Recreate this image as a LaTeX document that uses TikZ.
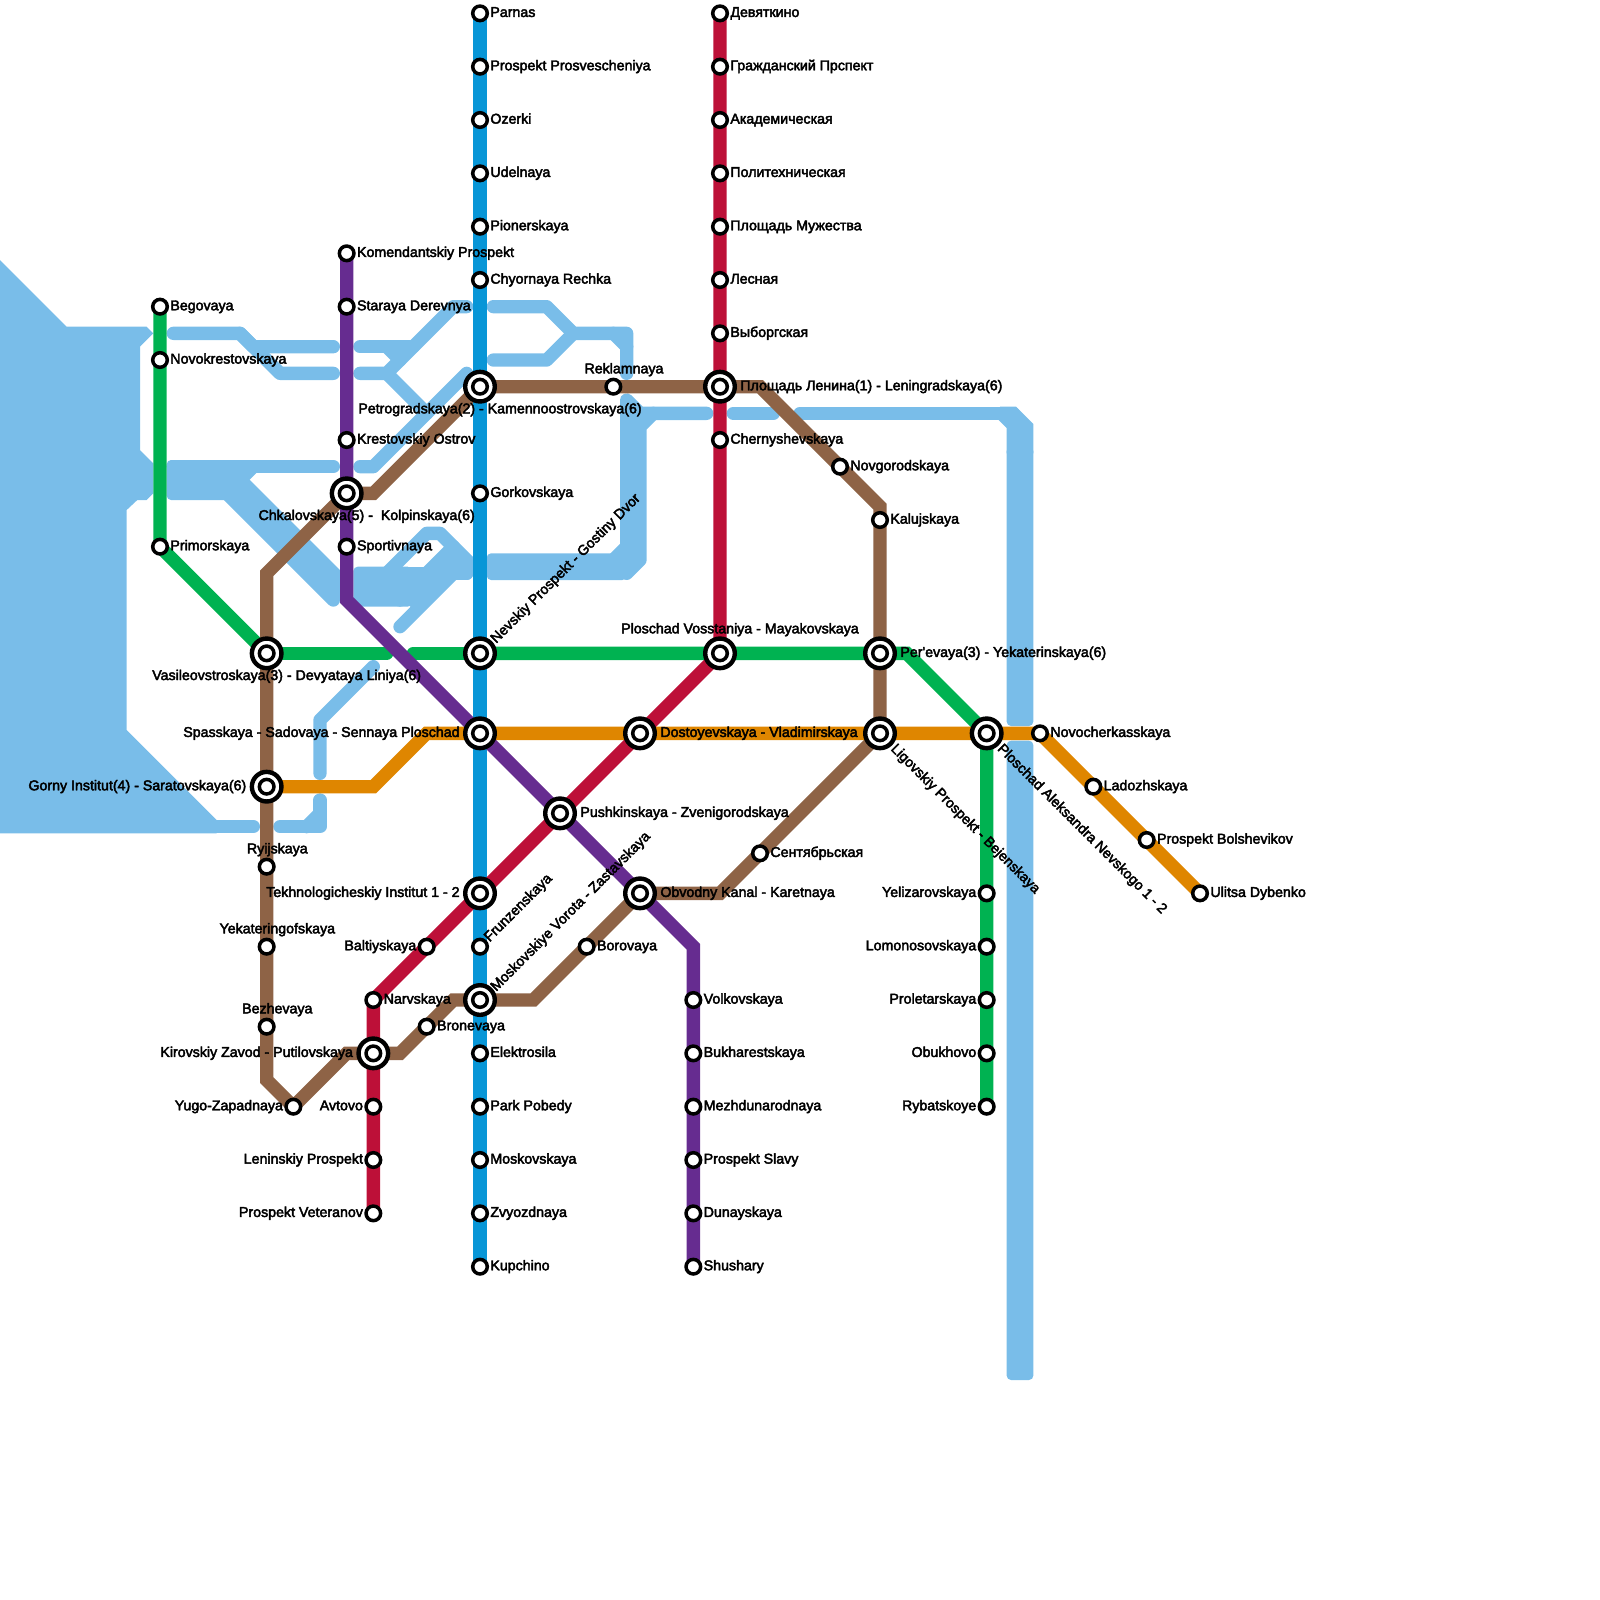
\documentclass[tikz,border=0pt]{standalone}
\usepackage{fontspec}
\newfontfamily\lblfont[FakeBold=3]{Liberation Sans}
\pgfdeclarelayer{water}
\pgfdeclarelayer{lines}
\pgfsetlayers{water,lines,main}
\definecolor{cwater}{HTML}{79BDE9}
\definecolor{cblue}{HTML}{0896D7}
\definecolor{cred}{HTML}{BD1038}
\definecolor{cpurple}{HTML}{662C90}
\definecolor{cgreen}{HTML}{00B251}
\definecolor{corange}{HTML}{DF8600}
\definecolor{cbrown}{HTML}{8E6346}
\tikzset{
  stn/.style={circle,draw=black,fill=white,line width=1.75pt,minimum size=7.3pt,inner sep=0pt},
  hubo/.style={circle,draw=black,fill=white,line width=2.2pt,minimum size=14.8pt,inner sep=0pt},
  lbl/.style={font=\lblfont\fontsize{7.1pt}{8pt}\selectfont,inner sep=0pt,text=black},
  metro/.style={line width=6.667pt,line join=miter,line cap=butt},
  wat/.style={line width=6.667pt,line join=round,line cap=round,draw=cwater},
  watf/.style={fill=cwater,rounded corners=2.2pt},
}
% station, optional label variants
\newcommand{\st}[3]{\node[stn] (#1) at (#2,#3) {};}
\newcommand{\hb}[3]{\node[hubo] (#1) at (#2,#3) {};\node[stn] (#1c) at (#1.center) {};}
\newcommand{\lR}[4]{\node[lbl,anchor=base west] (#1l) at ({#2+0.75},{#3+0.27}) {#4};}
\newcommand{\lL}[4]{\node[lbl,anchor=base east] (#1l) at ({#2-0.75},{#3+0.27}) {#4};}
\newcommand{\lA}[4]{\node[lbl,anchor=base west] (#1l) at (#2,#3) {#4};}
\newcommand{\lE}[4]{\node[lbl,anchor=base east] (#1l) at (#2,#3) {#4};}
\newcommand{\lC}[4]{\node[lbl,anchor=base] (#1l) at (#2,#3) {#4};}
\newcommand{\sR}[4]{\st{#1}{#2}{#3}\lR{#1}{#2}{#3}{#4}}
\newcommand{\sL}[4]{\st{#1}{#2}{#3}\lL{#1}{#2}{#3}{#4}}
\begin{document}
\begin{tikzpicture}[x=6.6667pt,y=-6.6667pt]
\useasboundingbox (0,0) rectangle (120,120);
% ---------- water
\begin{pgfonlayer}{water}
\fill[cwater] (0,19.5) -- (5,24.5) -- (11,24.5) -- (11.5,25) -- (10.5,26) -- (10.5,33.75) -- (11.5,34.75) -- (11.5,37) -- (11,37.5) -- (10.3,37.5) -- (9.5,38.25) -- (9.5,54.75) -- (16.25,61.5) -- (16.25,62.5) -- (0,62.5) -- cycle;
\draw[wat] (16,62) -- (19,62);
\draw[wat] (21,62) -- (24,62) -- (24,60);
\draw[wat] (23,62) -- (24,61);
\draw[wat] (28,50) -- (24,54) -- (24,58);
\draw[wat] (13,25) -- (18,25) -- (19,26) -- (25,26);
\draw[wat] (18,25) -- (21,28) -- (25,28);
% left band
\draw[wat] (13,35) -- (25,35);
\draw[wat] (17,37) -- (19,35);
\draw[wat] (17,37) -- (25,45);
\fill[watf] (12.5,34.5) rectangle (18,37.5);
\fill[cwater] (17.2,35) -- (18.75,36) -- (25.5,42.75) -- (25.5,45) -- (25,45) -- (17,37) -- cycle;
% upper branches
\draw[wat] (27,26) -- (31,26);
\draw[wat] (27,28) -- (29,28) -- (34,23) -- (35,23);
\draw[wat] (29,26) -- (30,27);
\draw[wat] (29,28) -- (32,31);
\draw[wat] (27,35) -- (28,35) -- (35,28);
% central clump
\draw[wat] (30,43) -- (35,43);
\draw[wat] (29,43) -- (32,40) -- (33,40) -- (35.2,42.2) -- (35,43);
\draw[wat] (34,41) -- (30,45);
\draw[wat] (30,47) -- (34,43);
\fill[watf] (26.5,42.5) rectangle (30.9,45.5);
\fill[cwater] (34,41) -- (35.2,42.2) -- (35,43) -- (34,43) -- (30,47) -- (30.8,45.5) -- (30,45) -- cycle;
% upper right of blue
\draw[wat] (37,23) -- (41,23) -- (43,25) -- (47,25) -- (47,28);
\draw[wat] (46,25) -- (47,26);
\draw[wat] (37,27) -- (41,27) -- (43,25);
% right band
\draw[wat] (46,42) -- (47,41) -- (47,30) -- (48,31) -- (53,31);
\draw[wat] (47,43) -- (48,42) -- (48,32) -- (49,31);
\fill[watf] (36.5,41.5) rectangle (47,43.5);
\fill[cwater] (46,42) -- (47,41) -- (47,30) -- (48,31) -- (48,42) -- (47,43) -- (46,43) -- cycle;
\draw[wat] (55,31) -- (58,31);
% far right
\draw[wat] (60,31) -- (76,31);
\fill[cwater] (75,30.5) -- (76.2,30.5) -- (77.5,31.8) -- (77.5,34) -- (75.5,34) -- (75.5,32.1) -- (74.9,31.5) -- cycle;
\fill[watf] (75.5,33.5) rectangle (77.5,54.45);
\fill[watf] (75.5,55.55) rectangle (77.5,103.5);
\end{pgfonlayer}
% ---------- bends
\coordinate (b1) at (20,81);
\coordinate (b2) at (26,79);
\coordinate (b3) at (30,79);
\coordinate (b4) at (34,75);
\coordinate (b5) at (40,75);
\coordinate (b6) at (54,67);
\coordinate (b7) at (66,38);
\coordinate (b8) at (57,29);
\coordinate (b9) at (28,37);
\coordinate (b10) at (20,43);
\coordinate (g1) at (29,49);
\coordinate (g2) at (31,49);
\coordinate (g3) at (68,49);
\coordinate (o1) at (28,59);
\coordinate (o2) at (32,55);
\coordinate (p1) at (26,45);
\coordinate (p2) at (52,71);
% ---------- hubs
\hb{petro}{36}{29}
\hb{nevsky}{36}{49}
\hb{spass}{36}{55}
\hb{tekh}{36}{67}
\hb{mosk}{36}{75}
\hb{lenin}{54}{29}
\hb{vosst}{54}{49}
\hb{chk}{26}{37}
\hb{vasil}{20}{49}
\hb{gorny}{20}{59}
\hb{kirov}{28}{79}
\hb{pushk}{42}{61}
\hb{dost}{48}{55}
\hb{obv}{48}{67}
\hb{perv}{66}{49}
\hb{ligo}{66}{55}
\hb{alex}{74}{55}
% ---------- blue line stations
\sR{parnas}{36}{1}{Parnas}
\sR{prosv}{36}{5}{Prospekt Prosvescheniya}
\sR{ozerki}{36}{9}{Ozerki}
\sR{udel}{36}{13}{Udelnaya}
\sR{pion}{36}{17}{Pionerskaya}
\sR{chyor}{36}{21}{Chyornaya Rechka}
\sR{gork}{36}{37}{Gorkovskaya}
\sR{elek}{36}{79}{Elektrosila}
\sR{park}{36}{83}{Park Pobedy}
\sR{moskv}{36}{87}{Moskovskaya}
\sR{zvyo}{36}{91}{Zvyozdnaya}
\sR{kupch}{36}{95}{Kupchino}
\st{frunz}{36}{71}
% ---------- red line stations
\sR{devy}{54}{1}{Девяткино}
\sR{grazh}{54}{5}{Гражданский Прспект}
\sR{akad}{54}{9}{Академическая}
\sR{polit}{54}{13}{Политехническая}
\sR{mush}{54}{17}{Площадь Мужества}
\sR{lesn}{54}{21}{Лесная}
\sR{vybo}{54}{25}{Выборгская}
\sR{chern}{54}{33}{Chernyshevskaya}
\sL{balt}{32}{71}{Baltiyskaya}
\sR{narv}{28}{75}{Narvskaya}
\sL{avto}{28}{83}{Avtovo}
\sL{lenp}{28}{87}{Leninskiy Prospekt}
\sL{vete}{28}{91}{Prospekt Veteranov}
% ---------- purple line stations
\sR{kome}{26}{19}{Komendantskiy Prospekt}
\sR{star}{26}{23}{Staraya Derevnya}
\sR{kres}{26}{33}{Krestovskiy Ostrov}
\sR{spor}{26}{41}{Sportivnaya}
\sR{volk}{52}{75}{Volkovskaya}
\sR{buch}{52}{79}{Bukharestskaya}
\sR{mezh}{52}{83}{Mezhdunarodnaya}
\sR{slav}{52}{87}{Prospekt Slavy}
\sR{duna}{52}{91}{Dunayskaya}
\sR{shus}{52}{95}{Shushary}
% ---------- green line stations
\sR{bego}{12}{23}{Begovaya}
\sR{novok}{12}{27}{Novokrestovskaya}
\sR{prim}{12}{41}{Primorskaya}
\sL{yeli}{74}{67}{Yelizarovskaya}
\sL{lomo}{74}{71}{Lomonosovskaya}
\sL{prol}{74}{75}{Proletarskaya}
\sL{obuk}{74}{79}{Obukhovo}
\sL{ryba}{74}{83}{Rybatskoye}
% ---------- orange line stations
\sR{novoc}{78}{55}{Novocherkasskaya}
\sR{lado}{82}{59}{Ladozhskaya}
\sR{bols}{86}{63}{Prospekt Bolshevikov}
\sR{dybe}{90}{67}{Ulitsa Dybenko}
% ---------- brown line stations
\st{yugo}{22}{83}\lL{yugo}{22}{83}{Yugo-Zapadnaya}
\st{bezh}{20}{77}\lC{bezh}{20.8}{76}{Bezhevaya}
\st{yeka}{20}{71}\lC{yeka}{20.8}{70}{Yekateringofskaya}
\st{ryij}{20}{65}\lC{ryij}{20.8}{64}{Ryijskaya}
\st{rekl}{46}{29}\lC{rekl}{46.8}{28}{Reklamnaya}
\sR{novg}{63}{35}{Novgorodskaya}
\sR{kalu}{66}{39}{Kalujskaya}
\sR{sent}{57}{64}{Сентябрьская}
\sR{boro}{44}{71}{Borovaya}
\sR{bron}{32}{77}{Bronevaya}
% ---------- hub labels
\lC{petro}{37.5}{31}{Petrogradskaya(2) - Kamennoostrovskaya(6)}
\lC{chk}{27.5}{39}{Chkalovskaya(5) -\ \ Kolpinskaya(6)}
\lC{vasil}{21.5}{51}{Vasileovstroskaya(3) - Devyataya Liniya(6)}
\lC{vosst}{55.5}{47.5}{Ploschad Vosstaniya - Mayakovskaya}
\lE{gorny}{18.5}{59.27}{Gorny Institut(4) - Saratovskaya(6)}
\lE{spass}{34.5}{55.27}{Spasskaya - Sadovaya - Sennaya Ploschad}
\lE{tekh}{34.5}{67.27}{Tekhnologicheskiy Institut 1 - 2}
\lE{kirov}{26.5}{79.27}{Kirovskiy Zavod - Putilovskaya}
\lA{pushk}{43.5}{61.27}{Pushkinskaya - Zvenigorodskaya}
\lA{dost}{49.5}{55.27}{Dostoyevskaya - Vladimirskaya}
\lA{obv}{49.5}{67.27}{Obvodny Kanal - Karetnaya}
\lA{lenin}{55.5}{29.27}{Площадь Ленина(1) - Leningradskaya(6)}
\lA{perv}{67.5}{49.27}{Per'evaya(3) - Yekaterinskaya(6)}
\node[lbl,anchor=base west,rotate=45] (nevskyl) at (37.2,48.3) {Nevskiy Prospekt - Gostiny Dvor};
\node[lbl,anchor=base west,rotate=45] (moskl) at (37.2,74.4) {Moskovskiye Vorota - Zastavskaya};
\node[lbl,anchor=base west,rotate=45] (frunzl) at (36.7,70.7) {Frunzenskaya};
\node[lbl,anchor=base west,rotate=-45] (ligol) at (66.75,56.2) {Ligovskiy Prospekt - Bejenskaya};
\node[lbl,anchor=base west,rotate=-45] (alexl) at (74.75,56.2) {Ploschad Aleksandra Nevskogo 1 - 2};
% ---------- lines
\begin{pgfonlayer}{lines}
\draw[metro,cbrown] (yugo.center) -- (b1) -- (bezh.center) -- (yeka.center) -- (ryij.center) -- (gorny.center) -- (vasil.center) -- (b10) -- (chk.center) -- (b9) -- (petro.center) -- (rekl.center) -- (lenin.center) -- (b8) -- (novg.center) -- (b7) -- (kalu.center) -- (perv.center) -- (ligo.center) -- (sent.center) -- (b6) -- (obv.center) -- (boro.center) -- (b5) -- (mosk.center) -- (b4) -- (bron.center) -- (b3) -- (kirov.center) -- (b2) -- (yugo.center);
\draw[metro,corange] (gorny.center) -- (o1) -- (o2) -- (spass.center) -- (dost.center) -- (ligo.center) -- (alex.center) -- (novoc.center) -- (lado.center) -- (bols.center) -- (dybe.center);
\draw[metro,cgreen] (bego.center) -- (novok.center) -- (prim.center) -- (vasil.center);
\draw[metro,cgreen,line cap=round] (vasil.center) -- (g1);
\draw[metro,cgreen,line cap=round] (g2) -- (nevsky.center);
\draw[metro,cgreen] (nevsky.center) -- (vosst.center) -- (perv.center) -- (g3) -- (alex.center) -- (yeli.center) -- (lomo.center) -- (prol.center) -- (obuk.center) -- (ryba.center);
\draw[metro,cblue] (parnas.center) -- (kupch.center);
\draw[metro,cpurple] (kome.center) -- (star.center) -- (kres.center) -- (chk.center) -- (spor.center) -- (p1) -- (spass.center) -- (pushk.center) -- (obv.center) -- (p2) -- (volk.center) -- (shus.center);
\draw[metro,cred] (devy.center) -- (lenin.center) -- (chern.center) -- (vosst.center) -- (dost.center) -- (pushk.center) -- (tekh.center) -- (balt.center) -- (narv.center) -- (kirov.center) -- (avto.center) -- (lenp.center) -- (vete.center);
\end{pgfonlayer}
\end{tikzpicture}
\end{document}
